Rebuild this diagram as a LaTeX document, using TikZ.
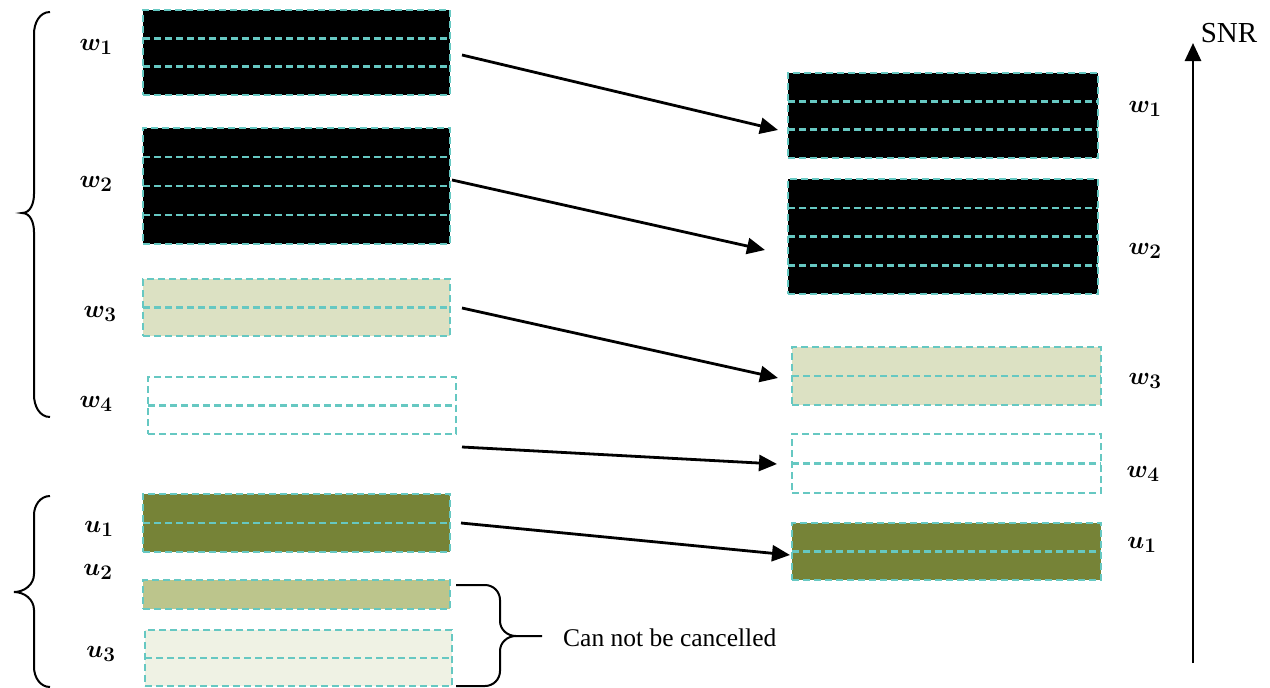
\documentclass[tikz,border=0pt]{standalone}
\usepackage{fontspec}
\setmainfont{Liberation Serif}
\usetikzlibrary{arrows.meta,calc}
\definecolor{tealdash}{RGB}{102,200,194}
\definecolor{oliveA}{RGB}{118,131,55}
\definecolor{oliveB}{RGB}{188,197,140}
\definecolor{oliveC}{RGB}{239,242,228}
\definecolor{khakiA}{RGB}{220,225,195}
\tikzset{
  sbox/.style={draw=tealdash, line width=2.5pt, dash pattern=on 7pt off 4pt, inner sep=0pt, outer sep=0pt, anchor=north west},
  sline/.style={draw=tealdash, line width=2.5pt, dash pattern=on 7pt off 4pt},
  conn/.style={-{Triangle[length=18pt,width=16pt]}, line width=2.8pt},
  lbl/.style={font=\fontsize{30}{34}\selectfont\boldmath},
  bracepath/.style={line width=2pt, line join=miter},
}
\newcommand{\rowlines}[2]{%
  \pgfmathtruncatemacro\nlines{#2-1}%
  \ifnum\nlines>0
    \foreach \k in {1,...,\nlines}{%
      \pgfmathsetmacro\frac{\k/#2}%
      \draw[sline] ($(#1.north west)!\frac!(#1.south west)$) -- ($(#1.north east)!\frac!(#1.south east)$);
    }%
  \fi}
\begin{document}
\begin{tikzpicture}[x=1pt,y=-1pt]
\useasboundingbox (0,0) rectangle (1270,688);
% left boxes
\node[sbox, fill=black, minimum width=307pt, minimum height=85pt] (lw1) at (143,10) {};
\rowlines{lw1}{3}
\node[sbox, fill=black, minimum width=307pt, minimum height=116pt] (lw2) at (143,128) {};
\rowlines{lw2}{4}
\node[sbox, fill=khakiA, minimum width=307pt, minimum height=57pt] (lw3) at (143,279) {};
\rowlines{lw3}{2}
\node[sbox, fill=white, minimum width=308pt, minimum height=57pt] (lw4) at (148,377) {};
\rowlines{lw4}{2}
\node[sbox, fill=oliveA, minimum width=307pt, minimum height=58pt] (lu1) at (143,494) {};
\rowlines{lu1}{2}
\node[sbox, fill=oliveB, minimum width=307pt, minimum height=29pt] (lu2) at (143,580) {};
\node[sbox, fill=oliveC, minimum width=307pt, minimum height=56pt] (lu3) at (145,630) {};
\rowlines{lu3}{2}
% right boxes
\node[sbox, fill=black, minimum width=310pt, minimum height=85pt] (rw1) at (788,73) {};
\rowlines{rw1}{3}
\node[sbox, fill=black, minimum width=310pt, minimum height=115pt] (rw2) at (788,179) {};
\rowlines{rw2}{4}
\node[sbox, fill=khakiA, minimum width=309pt, minimum height=58pt] (rw3) at (792,347) {};
\rowlines{rw3}{2}
\node[sbox, fill=white, minimum width=309pt, minimum height=59pt] (rw4) at (792,434) {};
\rowlines{rw4}{2}
\node[sbox, fill=oliveA, minimum width=309pt, minimum height=57pt] (ru1) at (792,523) {};
\rowlines{ru1}{2}
% left labels
\node[lbl] (tlw1) at (96,47) {$w_1$};
\node[lbl] (tlw2) at (96,184) {$w_2$};
\node[lbl] (tlw3) at (100,314) {$w_3$};
\node[lbl] (tlw4) at (96,404) {$w_4$};
\node[lbl] (tlu1) at (99,529) {$u_1$};
\node[lbl] (tlu2) at (98,572) {$u_2$};
\node[lbl] (tlu3) at (101,654) {$u_3$};
% right labels
\node[lbl] (trw1) at (1145,109) {$w_1$};
\node[lbl] (trw2) at (1145,251) {$w_2$};
\node[lbl] (trw3) at (1145,381) {$w_3$};
\node[lbl] (trw4) at (1143,474) {$w_4$};
\node[lbl] (tru1) at (1142,545) {$u_1$};
% arrows
\draw[conn] ($(lw1.east)+(12,2.5)$) -- ($(rw1.west)+(-10,14.5)$);
\draw[conn] ($(lw2.east)+(2,-6)$) -- ($(rw2.west)+(-23,13.5)$);
\draw[conn] ($(lw3.east)+(12,0.5)$) -- ($(rw3.west)+(-14,2)$);
\draw[conn] ($(lw4.east)+(6,41.5)$) -- ($(rw4.west)+(-15,0.5)$);
\draw[conn] ($(lu1.east)+(11,0)$) -- ($(ru1.west)+(-2,3.5)$);
% SNR axis
\node[font=\fontsize{29}{32}\selectfont, inner sep=0pt] (snr) at (1229,33) {SNR};
\coordinate (snrbase) at (1193,663);
\coordinate (snrtop) at (1193,43);
\draw[conn] (snrbase) -- (snrtop);
% braces
\draw[bracepath] (50,12) to[out=180,in=90] (34,34) -- (34,194) to[out=-90,in=0] (22,213) to[out=0,in=90] (34,232) -- (34,395) to[out=-90,in=180] (50,417);
\draw[bracepath] (50,496) to[out=180,in=90] (34,515) -- (34,574) to[out=-90,in=0] (14,592) to[out=0,in=90] (34,610) -- (34,667) to[out=-90,in=180] (50,687);
\node[anchor=west, font=\fontsize{25.5}{28}\selectfont, inner sep=0pt] (cnc) at (563,638) {Can not be cancelled};
\draw[bracepath] (456,585) -- (485,585) to[out=0,in=90] (500,600) -- (500,621) to[out=-90,in=180] (516,636) -- ($(cnc.west)+(-21,-2)$);
\draw[bracepath] (516,636) to[out=180,in=90] (500,651) -- (500,671) to[out=-90,in=0] (485,686) -- (456,686);
\end{tikzpicture}
\end{document}
